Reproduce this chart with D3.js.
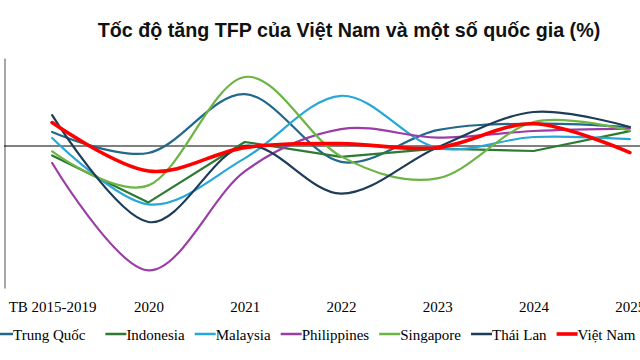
<!DOCTYPE html>
<html>
<head>
<meta charset="utf-8">
<script src="https://cdn.jsdelivr.net/npm/d3@7"></script>
<style>
  html, body { margin: 0; padding: 0; background: #fff; }
  svg { display: block; }
</style>
</head>
<body>
<div id="chart"></div>
<script>
'use strict';

// Categories on the x axis
const years = ["TB 2015-2019", "2020", "2021", "2022", "2023", "2024", "2025"];

// TFP growth (%) per country
const trungQuoc   = [0.70, -0.35, 2.59, -0.79, 0.79, 1.12, 0.95];
const indonesia   = [-0.47, -2.82, 0.20, -0.54, -0.13, -0.25, 0.74];
const malaysia    = [0.40, -2.92, -0.62, 2.51, -0.09, 0.45, 0.34];
const philippines = [-0.85, -6.22, -1.27, 0.84, 0.42, 0.75, 0.87];
const singapore   = [-0.27, -1.97, 3.45, -0.52, -1.62, 1.20, 0.76];
const thaiLan     = [1.54, -3.80, 0.01, -2.38, -0.07, 1.70, 0.95];
const vietNam     = [1.17, -1.25, -0.08, 0.12, -0.09, 1.11, -0.33];

const seriesNames = ["Trung Quốc", "Indonesia", "Malaysia", "Philippines", "Singapore", "Thái Lan", "Việt Nam"];
const seriesValues = [trungQuoc, indonesia, malaysia, philippines, singapore, thaiLan, vietNam];
const seriesColors = ["#22688a", "#2d7a32", "#27a7d8", "#9b3da6", "#6cb443", "#1c3c58", "#ff0000"];

const width = 640;
const height = 360;

const svg = d3.select("#chart").append("svg")
    .attr("width", width)
    .attr("height", height);

// Title
svg.append("text")
    .attr("x", 349)
    .attr("y", 37)
    .attr("text-anchor", "middle")
    .style("font", "bold 19.7px 'Liberation Sans', Arial, sans-serif")
    .style("fill", "#111")
    .text("Tốc độ tăng TFP của Việt Nam và một số quốc gia (%)");

// Scales: plot area runs past the right edge like the cropped original
const x = d3.scalePoint()
    .domain(years)
    .range([4, 678])
    .padding(0.5);

const y = d3.scaleLinear()
    .domain([-7.1, 4.4])
    .range([288, 58]);

// Vertical axis, no ticks or labels
svg.append("g")
    .attr("transform", "translate(4.5,0)")
    .call(d3.axisLeft(y).ticks(0).tickSizeOuter(0))
    .call(g => g.select(".domain").attr("stroke", "#8a8a8a").attr("stroke-width", 1.5));

// Zero line
svg.append("line")
    .attr("x1", 4).attr("x2", width)
    .attr("y1", y(0)).attr("y2", y(0))
    .attr("stroke", "#000")
    .attr("stroke-width", 1);

// Category labels
const xAxis = svg.append("g")
    .attr("transform", "translate(0,298)")
    .call(d3.axisBottom(x).tickSize(0).tickPadding(0));
xAxis.select(".domain").remove();
xAxis.selectAll("text")
    .attr("dy", "0.95em")
    .style("font", "15px 'Liberation Serif', 'Times New Roman', serif")
    .style("fill", "#000");

// Lines
const smooth = d3.line()
    .x((d, i) => x(years[i]))
    .y(d => y(d))
    .curve(d3.curveCardinal.tension(0));

const straight = d3.line()
    .x((d, i) => x(years[i]))
    .y(d => y(d));

seriesValues.forEach((vals, k) => {
  const isVN = seriesNames[k] === "Việt Nam";
  const gen = seriesNames[k] === "Indonesia" ? straight : smooth;
  svg.append("path")
      .datum(vals)
      .attr("d", gen)
      .attr("fill", "none")
      .attr("stroke", seriesColors[k])
      .attr("stroke-width", isVN ? 3.6 : 2.2)
      .attr("stroke-linejoin", "round")
      .attr("stroke-linecap", "round");
});

// Legend
const legend = svg.append("g").attr("transform", "translate(0,334)");
let lx = -8;
seriesNames.forEach((name, k) => {
  legend.append("line")
      .attr("x1", lx).attr("x2", lx + 21)
      .attr("y1", 0).attr("y2", 0)
      .attr("stroke", seriesColors[k])
      .attr("stroke-width", seriesNames[k] === "Việt Nam" ? 3.6 : 2.5);
  const t = legend.append("text")
      .attr("x", lx + 21)
      .attr("y", 5.5)
      .style("font", "15px 'Liberation Serif', 'Times New Roman', serif")
      .style("fill", "#000")
      .text(name);
  lx += 21 + t.node().getComputedTextLength() + (k === 0 ? 20 : 10);
});
</script>
</body>
</html>
